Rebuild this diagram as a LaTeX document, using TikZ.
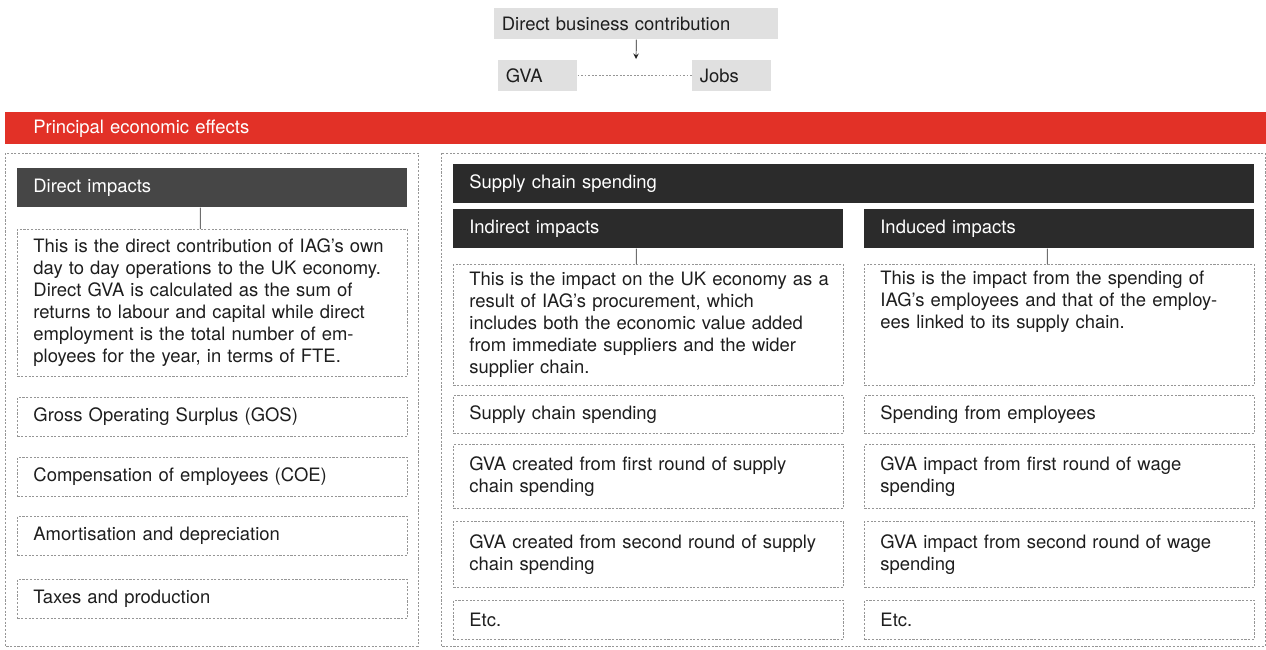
\documentclass[tikz,border=0pt]{standalone}
\usepackage{fontspec}
\setmainfont{TeX Gyre Heros}
\definecolor{redbar}{RGB}{226,49,39}
\definecolor{darkA}{RGB}{70,70,70}
\definecolor{darkB}{RGB}{43,43,43}
\definecolor{lightgrey}{RGB}{224,224,224}
\definecolor{dashgrey}{RGB}{150,150,150}
\definecolor{linkgrey}{RGB}{110,110,110}
\definecolor{ink}{RGB}{30,30,30}
\begin{document}
\begin{tikzpicture}[x=0.02cm, y=-0.02cm, font=\fontsize{10.5}{12.5}\selectfont,
  grey/.style={fill=lightgrey, text=ink, anchor=north west, minimum height=0.62cm, inner xsep=0.15cm, align=left},
  dark/.style={fill=#1, text=white, anchor=north west, minimum width=7.8cm, text width=7.16cm, minimum height=0.78cm, inner xsep=0.32cm, align=left},
  dark/.default=darkB,
  item/.style={draw=dashgrey, dash pattern=on 1.2pt off 0.9pt, line width=0.5pt, text=ink, anchor=north west, minimum width=7.8cm, text width=7.16cm, minimum height=0.78cm, inner xsep=0.32cm, align=left},
  panel/.style={draw=dashgrey, dash pattern=on 1.2pt off 0.9pt, line width=0.5pt},
  link/.style={draw=linkgrey, line width=0.6pt},
  arr/.style={draw=ink, ->, >=stealth}]
  \useasboundingbox (0,0) rectangle (1266,649);

  % top legend
  \node[grey, minimum width=5.68cm, text width=5.38cm] (dbc) at (494,8) {Direct business contribution};
  \node[grey, minimum width=1.58cm, text width=1.28cm] (gva) at (498,60) {GVA};
  \node[grey, minimum width=1.58cm, text width=1.28cm] (jobs) at (692,60) {Jobs};
  \coordinate (split) at (636,59);
  \draw[arr] (dbc.south) -- (split);
  \draw[draw=dashgrey, dash pattern=on 1pt off 1pt, line width=0.6pt] (gva.east) -- (jobs.west);

  \node[fill=redbar, text=white, anchor=north west, minimum width=25.22cm, text width=24.1cm, inner xsep=0.56cm, minimum height=0.64cm, align=left] (pee) at (5,112) {Principal economic effects};

  \draw[panel] (5,153) rectangle (418,646);
  \draw[panel] (441,153) rectangle (1265,646);

  % direct impacts
  \node[dark=darkA] (dir) at (17,168) {Direct impacts};
  \node[item, minimum height=2.94cm] (dirdesc) at (17,229) {This is the direct contribution of IAG’s own\\day to day operations to the UK economy.\\Direct GVA is calculated as the sum of\\returns to labour and capital while direct\\employment is the total number of em-\\ployees for the year, in terms of FTE.};
  \node[item] (gos) at (17,397) {Gross Operating Surplus (GOS)};
  \node[item] (coe) at (17,457) {Compensation of employees (COE)};
  \node[item] (amort) at (17,516) {Amortisation and depreciation};
  \node[item] (tax) at (17,579) {Taxes and production};
  \draw[link] ([xshift=-0.24cm]dir.south) -- ([xshift=-0.24cm]dirdesc.north);

  % supply chain spending
  \node[dark, minimum width=16.02cm, text width=15.38cm] (scs) at (453,164) {Supply chain spending};
  \node[dark] (ind) at (453,209) {Indirect impacts};
  \node[dark] (indu) at (864,209) {Induced impacts};
  \node[item, minimum height=2.42cm] (inddesc) at (453,264) {\mbox{This is the impact on the UK economy as a}\\result of IAG’s procurement, which\\includes both the economic value added\\from immediate suppliers and the wider\\supplier chain.};
  \node[item, minimum height=2.42cm] (indudesc) at (864,264) {This is the impact from the spending of\\IAG’s employees and that of the employ-\\ees linked to its supply chain.\\\strut\\\strut};
  \draw[link] ([xshift=-0.24cm]ind.south) -- ([xshift=-0.24cm]inddesc.north);
  \draw[link] ([xshift=-0.24cm]indu.south) -- ([xshift=-0.24cm]indudesc.north);

  \node[item, minimum height=0.76cm] (sup) at (453,395) {Supply chain spending};
  \node[item, minimum height=1.28cm] (gvaone) at (453,444) {GVA created from first round of supply\\chain spending};
  \node[item, minimum height=1.32cm] (gvatwo) at (453,521) {GVA created from second round of supply\\chain spending};
  \node[item] (etcind) at (453,600) {Etc.};

  \node[item, minimum height=0.76cm] (spend) at (864,395) {Spending from employees};
  \node[item, minimum height=1.28cm] (wageone) at (864,444) {GVA impact from first round of wage\\spending};
  \node[item, minimum height=1.32cm] (wagetwo) at (864,521) {GVA impact from second round of wage\\spending};
  \node[item] (etcindu) at (864,600) {Etc.};
\end{tikzpicture}
\end{document}
